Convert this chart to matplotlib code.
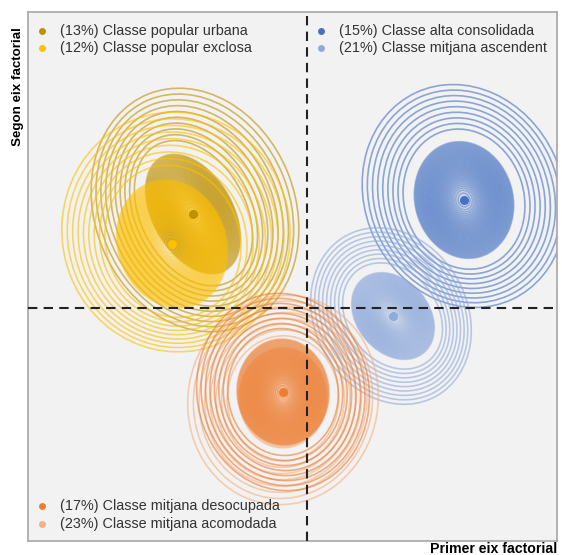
import numpy as np
import matplotlib.pyplot as plt
from matplotlib.patches import Ellipse

plt.rcParams['font.family'] = ['Liberation Sans', 'DejaVu Sans']

# grups (ordre de la llegenda)
labels = ['(13%) Classe popular urbana', '(12%) Classe popular exclosa',
          '(15%) Classe alta consolidada', '(21%) Classe mitjana ascendent',
          '(17%) Classe mitjana desocupada', '(23%) Classe mitjana acomodada']
colors = ['#BF9000', '#FFC000', '#4472C4', '#8FAADC', '#ED7D31', '#F4B183']

# centres dels grups (eixos factorials)
centre_x = [-1.14, -1.35, 1.57, 0.86, -0.24, -0.24]
centre_y = [0.94, 0.64, 1.08, -0.08, -0.84, -0.90]

# nucli de densitat
core_a = [0.40, 0.54, 0.49, 0.36, 0.46, 0.44]
core_b = [0.65, 0.65, 0.59, 0.48, 0.53, 0.50]
core_angle = [30, 20, 15, 40, 5, 0]

# contorn exterior
outer_x = [-1.12, -1.31, 1.57, 0.84, -0.24, -0.24]
outer_y = [0.98, 0.76, 1.12, -0.08, -0.84, -0.92]
outer_a = [1.00, 1.14, 0.99, 0.76, 0.86, 0.95]
outer_b = [1.25, 1.20, 1.14, 0.92, 0.99, 1.05]
outer_angle = [22, 10, 25, 30, 10, -10]
n_rings = [10, 9, 9, 9, 8, 8]

# ordre de dibuix
draw_order = [0, 1, 2, 3, 5, 4]

fig = plt.figure(figsize=(5.62, 5.55), dpi=100)
ax = fig.add_axes([28/562, 14/555, 529/562, 529/555])
ax.set_facecolor('#F2F2F2')
ax.set_xlim(-2.79, 2.50)
ax.set_ylim(-2.33, 2.96)
ax.set_xticks([])
ax.set_yticks([])
for s in ax.spines.values():
    s.set_color('#A6A6A6')
    s.set_linewidth(1.2)

# nivells de densitat dins el nucli
lev = np.linspace(0.35, 1.0, 46)[:-1]
core_s = np.sqrt(-2*np.log(lev)) / np.sqrt(-2*np.log(0.35))

for i in draw_order:
    c = colors[i]
    xy = (centre_x[i], centre_y[i])
    ax.add_patch(Ellipse(xy, 2*core_a[i], 2*core_b[i], angle=core_angle[i],
                         fc=c, ec='none', alpha=0.22, zorder=2))
    for s in core_s:
        ax.add_patch(Ellipse(xy, 2*core_a[i]*s, 2*core_b[i]*s, angle=core_angle[i],
                             fill=False, ec=c, lw=1.1, alpha=0.45, zorder=2))
    n = n_rings[i]
    for k in range(1, n + 1):
        t = 0.12 + 0.88*(k / n)
        x = centre_x[i] + t*(outer_x[i] - centre_x[i])
        y = centre_y[i] + t*(outer_y[i] - centre_y[i])
        a = core_a[i] + t*(outer_a[i] - core_a[i])
        b = core_b[i] + t*(outer_b[i] - core_b[i])
        ang = core_angle[i] + t*(outer_angle[i] - core_angle[i])
        ax.add_patch(Ellipse((x, y), 2*a, 2*b, angle=ang, fill=False, ec=c,
                             lw=1.2, alpha=0.6, zorder=2))

ax.axvline(0, color='#222222', lw=1.5, ls=(0, (4.5, 3)), zorder=4)
ax.axhline(0, color='#222222', lw=1.5, ls=(0, (4.5, 3)), zorder=4)

for i in draw_order:
    ax.plot(centre_x[i], centre_y[i], 'o', color=colors[i], ms=6.5, mec='none', zorder=5)

# llegendes a les cantonades
leg_x = [0.0265, 0.0265, 0.554, 0.554, 0.0265, 0.0265]
leg_y = [0.964, 0.932, 0.964, 0.932, 0.066, 0.032]
for i in range(len(labels)):
    ax.plot(leg_x[i], leg_y[i], 'o', color=colors[i], ms=5, mec='none',
            transform=ax.transAxes, zorder=6)
    ax.text(leg_x[i] + 0.034, leg_y[i], labels[i], transform=ax.transAxes,
            fontsize=10.4, color='#333333', va='center', ha='left', zorder=6)

fig.text(557/562, 1 - 549/555, 'Primer eix factorial', fontsize=10.2,
         fontweight='bold', ha='right', va='center')
fig.text(18/562, 1 - 87/555, 'Segon eix factorial', fontsize=9.6,
         fontweight='bold', rotation=90, ha='center', va='center')

fig.savefig('out.png', dpi=100)
